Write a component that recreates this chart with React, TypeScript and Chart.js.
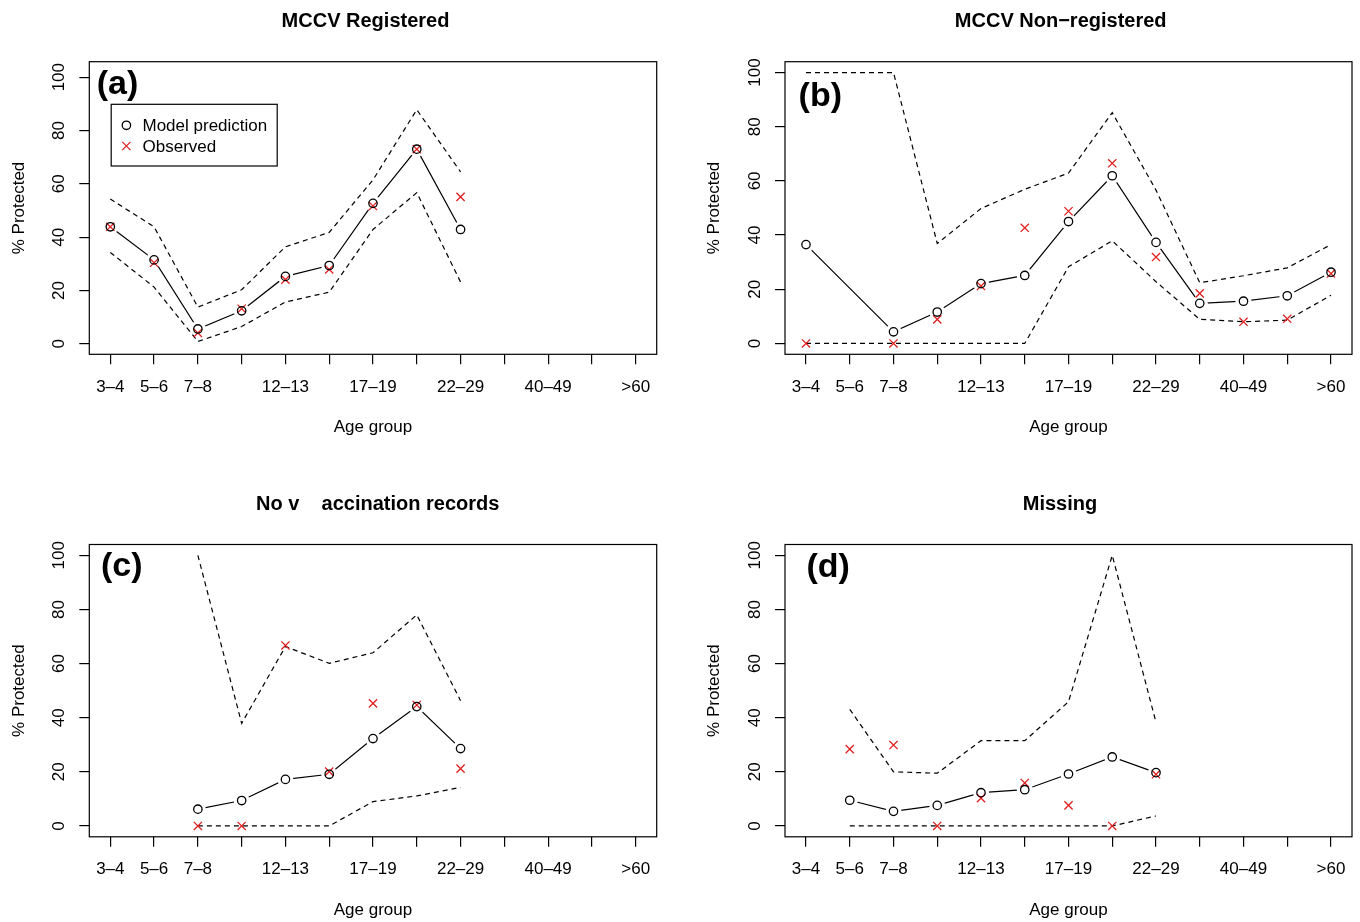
import React, { useEffect, useRef } from "react";
import { Chart, registerables } from "chart.js";

Chart.register(...registerables);

const FONT = '"Liberation Sans", Arial, Helvetica, sans-serif';
Chart.defaults.font.family = FONT;

// ---------- data ----------
const categories = ["3–4", "5–6", "7–8", "9–11", "12–13", "14–16", "17–19", "20–21", "22–29", "30–39", "40–49", "50–59", ">60"];
const shownTickLabels = ["3–4", "5–6", "7–8", "12–13", "17–19", "22–29", "40–49", ">60"];
const yTickValues = [0, 20, 40, 60, 80, 100];
const legendLabels = ["Model prediction", "Observed"];
const N = null;

// (a) MCCV Registered
const regModel = [43.9, 31.5, 5.6, 12.4, 25.3, 29.4, 52.7, 73.0, 42.9, N, N, N, N];
const regObserved = [43.9, 30.4, 4.1, 13.2, 24.1, 27.9, 51.7, 73.0, 55.1, N, N, N, N];
const regUpper = [54.3, 43.9, 13.8, 20.3, 36.4, 41.8, 61.5, 87.8, 64.5, N, N, N, N];
const regLower = [34.3, 21.3, 0.9, 6.5, 15.7, 19.4, 42.9, 56.7, 23.2, N, N, N, N];

// (b) MCCV Non-registered
const nonModel = [36.5, N, 4.3, 11.6, 22.1, 25.1, 45.0, 61.9, 37.3, 14.8, 15.6, 17.6, 26.3];
const nonObserved = [0, N, 0, 8.9, 21.2, 42.7, 48.8, 66.5, 31.9, 18.5, 8.0, 9.1, 25.8];
const nonUpper = [100, N, 100, 36.9, 49.8, 56.9, 62.9, 85.2, 56.6, 22.4, 25.0, 27.9, 36.5];
const nonLower = [0, N, 0, 0, 0, 0, 28.3, 37.9, 22.8, 8.9, 8.0, 8.6, 17.8];

// (c) No vaccination records
const novModel = [N, N, 6.2, 9.4, 17.2, 19.1, 32.3, 44.1, 28.6, N, N, N, N];
const novObserved = [N, N, 0, 0, 66.7, 20.1, 45.3, 44.7, 21.2, N, N, N, N];
const novUpper = [N, N, 100, 37.9, 66.3, 60.1, 64.0, 78.0, 46.3, N, N, N, N];
const novLower = [N, N, 0, 0, 0, 0, 9.0, 11.1, 14.3, N, N, N, N];

// (d) Missing
const misModel = [N, 9.5, 5.4, 7.6, 12.3, 13.4, 19.2, 25.5, 19.7, N, N, N, N];
const misObserved = [N, 28.4, 29.9, 0, 10.3, 15.9, 7.6, 0, 19.1, N, N, N, N];
const misUpper = [N, 43.1, 20.0, 19.5, 31.5, 31.5, 45.9, 100, 38.3, N, N, N, N];
const misLower = [N, 0, 0, 0, 0, 0, 0, 0, 3.7, N, N, N, N];

// ---------- layout ----------
const CW = 680;
const CH = 461;
const RED = "#e21f1f";

type PanelCfg = {
  title: string;
  letter: string;
  model: (number | null)[];
  observed: (number | null)[];
  upper: (number | null)[];
  lower: (number | null)[];
  x: number;
  y: number;
  area: { left: number; top: number; right: number; bottom: number };
  yMin: number;
  yMax: number;
  titleX: number;
  titleY: number;
  letterDX: number;
  letterDY: number;
  legend: boolean;
};

const panels: PanelCfg[] = [
  {
    title: "MCCV Registered", letter: "(a)",
    model: regModel, observed: regObserved, upper: regUpper, lower: regLower,
    x: 0, y: 0, area: { left: 89.3, top: 61.7, right: 656.7, bottom: 354.3 },
    yMin: -3.9, yMax: 105.8, titleX: 365.5, titleY: 26.7, letterDX: 7.5, letterDY: 8.3, legend: true,
  },
  {
    title: "MCCV Non−registered", letter: "(b)",
    model: nonModel, observed: nonObserved, upper: nonUpper, lower: nonLower,
    x: 680, y: 0, area: { left: 105, top: 61.7, right: 672.7, bottom: 354.3 },
    yMin: -4, yMax: 104, titleX: 380.7, titleY: 26.7, letterDX: 13.6, letterDY: 20, legend: false,
  },
  {
    title: "No v    accination records", letter: "(c)",
    model: novModel, observed: novObserved, upper: novUpper, lower: novLower,
    x: 0, y: 461, area: { left: 89.3, top: 83.5, right: 656.7, bottom: 375.8 },
    yMin: -4, yMax: 104, titleX: 377.7, titleY: 49, letterDX: 11.7, letterDY: 6.7, legend: false,
  },
  {
    title: "Missing", letter: "(d)",
    model: misModel, observed: misObserved, upper: misUpper, lower: misLower,
    x: 680, y: 461, area: { left: 105, top: 83.5, right: 672.7, bottom: 375.8 },
    yMin: -4, yMax: 104, titleX: 380, titleY: 49, letterDX: 21.4, letterDY: 7.7, legend: false,
  },
];

const toXY = (vals: (number | null)[]) => vals.map((v, i) => ({ x: i + 1, y: v }));

function drawCircle(ctx: CanvasRenderingContext2D, x: number, y: number) {
  ctx.beginPath();
  ctx.arc(x, y, 4.2, 0, Math.PI * 2);
  ctx.strokeStyle = "#000";
  ctx.lineWidth = 1.3;
  ctx.stroke();
}
function drawX(ctx: CanvasRenderingContext2D, x: number, y: number) {
  const h = 4.1;
  ctx.beginPath();
  ctx.moveTo(x - h, y - h); ctx.lineTo(x + h, y + h);
  ctx.moveTo(x - h, y + h); ctx.lineTo(x + h, y - h);
  ctx.strokeStyle = RED;
  ctx.lineWidth = 1.3;
  ctx.stroke();
}

function Panel({ cfg }: { cfg: PanelCfg }) {
  const ref = useRef<HTMLCanvasElement>(null);
  useEffect(() => {
    if (!ref.current) return;
    const a = cfg.area;
    const Y_AXIS_W = 20;
    const X_AXIS_H = 60;

    const decor = {
      id: "decor",
      afterDraw(chart: any) {
        const { ctx, chartArea: ca, scales } = chart;
        ctx.save();
        // box
        ctx.strokeStyle = "#000";
        ctx.lineWidth = 1.2;
        ctx.strokeRect(ca.left, ca.top, ca.right - ca.left, ca.bottom - ca.top);

        ctx.fillStyle = "#000";
        // y tick labels (rotated, parallel to axis)
        ctx.font = `17px ${FONT}`;
        ctx.textAlign = "center";
        ctx.textBaseline = "alphabetic";
        for (const t of scales.y.ticks) {
          const py = scales.y.getPixelForValue(t.value);
          ctx.save();
          ctx.translate(ca.left - 31.5 + 6.1, py);
          ctx.rotate(-Math.PI / 2);
          ctx.fillText(String(t.value), 0, 0);
          ctx.restore();
        }
        // y axis title
        ctx.save();
        ctx.translate(ca.left - 71.8 + 6.1, (ca.top + ca.bottom) / 2);
        ctx.rotate(-Math.PI / 2);
        ctx.fillText("% Protected", 0, 0);
        ctx.restore();
        // x axis title
        ctx.fillText("Age group", (ca.left + ca.right) / 2, ca.bottom + 77.8);
        // main title
        ctx.font = `bold 20px ${FONT}`;
        ctx.fillText(cfg.title, cfg.titleX, cfg.titleY);
        // panel letter
        ctx.font = `bold 34px ${FONT}`;
        ctx.textAlign = "left";
        ctx.fillText(cfg.letter, ca.left + cfg.letterDX, ca.top + cfg.letterDY + 24.3);
        // legend
        if (cfg.legend) {
          const lx = ca.left + 21.9;
          const ly = ca.top + 42.6;
          ctx.lineWidth = 1.2;
          ctx.strokeStyle = "#000";
          ctx.strokeRect(lx, ly, 166, 61.7);
          drawCircle(ctx, ca.left + 37.1, ca.top + 63.6);
          drawX(ctx, ca.left + 37.1, ca.top + 84.3);
          ctx.fillStyle = "#000";
          ctx.font = `17px ${FONT}`;
          ctx.fillText(legendLabels[0], ca.left + 53.2, ca.top + 68.8);
          ctx.fillText(legendLabels[1], ca.left + 53.2, ca.top + 89.8);
        }
        ctx.restore();
      },
    };

    const chart = new Chart(ref.current, {
      type: "line",
      data: {
        datasets: [
          {
            label: "model line", data: toXY(cfg.model), showLine: true, spanGaps: true,
            borderColor: "#000", borderWidth: 1.2, pointRadius: 0, order: 6,
          },
          {
            label: "gap", data: toXY(cfg.model), showLine: false,
            pointRadius: 8, pointBackgroundColor: "#fff", pointBorderColor: "#fff", pointBorderWidth: 0, order: 5,
          },
          {
            label: "upper", data: toXY(cfg.upper), showLine: true, spanGaps: true,
            borderColor: "#000", borderWidth: 1.2, borderDash: [5, 4], pointRadius: 0, order: 4,
          },
          {
            label: "lower", data: toXY(cfg.lower), showLine: true, spanGaps: true,
            borderColor: "#000", borderWidth: 1.2, borderDash: [5, 4], pointRadius: 0, order: 3,
          },
          {
            label: legendLabels[1], data: toXY(cfg.observed), showLine: false,
            pointStyle: "crossRot", pointRadius: 5.8, pointBorderColor: RED, pointBorderWidth: 1.3, order: 2,
          },
          {
            label: legendLabels[0], data: toXY(cfg.model), showLine: false,
            pointStyle: "circle", pointRadius: 4.2, pointBorderColor: "#000",
            pointBackgroundColor: "rgba(0,0,0,0)", pointBorderWidth: 1.3, order: 1,
          },
        ],
      },
      options: {
        animation: false,
        responsive: false,
        devicePixelRatio: 1,
        events: [],
        layout: {
          padding: {
            left: a.left - Y_AXIS_W,
            top: a.top,
            right: CW - a.right,
            bottom: CH - a.bottom - X_AXIS_H,
          },
        },
        plugins: { legend: { display: false }, tooltip: { enabled: false }, title: { display: false } },
        scales: {
          x: {
            type: "linear",
            position: "bottom",
            min: 0.52,
            max: 13.48,
            afterBuildTicks: (scale: any) => {
              scale.ticks = categories.map((_, i) => ({ value: i + 1 }));
            },
            afterFit: (scale: any) => {
              scale.height = X_AXIS_H;
            },
            grid: {
              display: true, drawOnChartArea: false, drawTicks: true, tickLength: 10,
              color: "#000", tickColor: "#000", lineWidth: 1.2, tickWidth: 1.2,
            },
            border: { display: false },
            ticks: {
              autoSkip: false, maxRotation: 0, minRotation: 0, padding: 12.8,
              color: "#000", font: { size: 17, family: FONT },
              callback: (v: any) => {
                const lab = categories[Math.round(Number(v)) - 1];
                return shownTickLabels.includes(lab) ? lab : "";
              },
            },
          },
          y: {
            type: "linear",
            position: "left",
            min: cfg.yMin,
            max: cfg.yMax,
            afterBuildTicks: (scale: any) => {
              scale.ticks = yTickValues.map((v) => ({ value: v }));
            },
            afterFit: (scale: any) => {
              scale.width = Y_AXIS_W;
            },
            grid: {
              display: true, drawOnChartArea: false, drawTicks: true, tickLength: 10,
              color: "#000", tickColor: "#000", lineWidth: 1.2, tickWidth: 1.2,
            },
            border: { display: false },
            ticks: { display: false },
          },
        },
      },
      plugins: [decor],
    } as any);
    return () => chart.destroy();
  }, [cfg]);

  return (
    <canvas
      ref={ref}
      width={CW}
      height={CH}
      style={{ position: "absolute", left: cfg.x, top: cfg.y, width: CW, height: CH }}
    />
  );
}

export default function App() {
  return (
    <div style={{ position: "fixed", left: 0, top: 0, width: 1360, height: 922, background: "#fff" }}>
      {panels.map((p) => (
        <Panel key={p.letter} cfg={p} />
      ))}
    </div>
  );
}
